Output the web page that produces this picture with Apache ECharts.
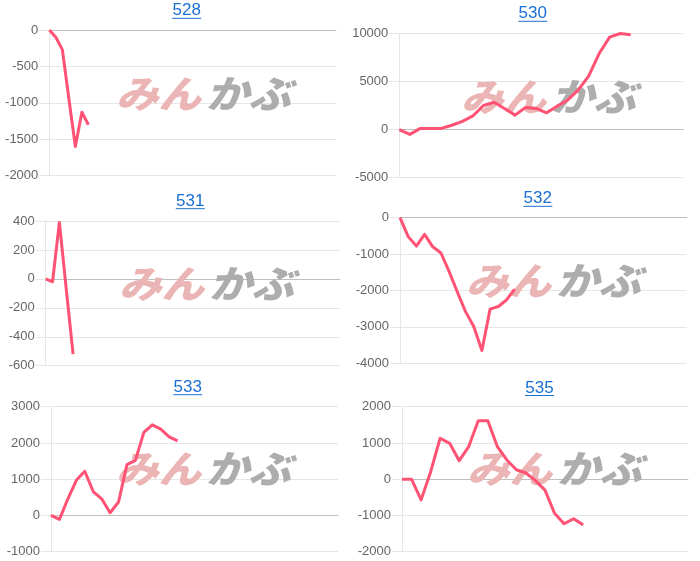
<!DOCTYPE html>
<html><head><meta charset="utf-8">
<script src="https://cdn.jsdelivr.net/npm/echarts@6/dist/echarts.min.js"></script>
<style>html,body{margin:0;padding:0;background:#fff}#c{width:700px;height:561px}</style>
</head><body><div id="c"></div>
<script>
// ---- data ----
const titles = ['528', '530', '531', '532', '533', '535'];
const slotCounts = [45, 28, 44, 36, 35, 31]; // number of x slots per panel
const pnl528 = [0, -100, -270, -940, -1600, -1130, -1300];
const pnl530 = [0, -500, 120, 120, 120, 450, 850, 1420, 2500, 2840, 2190, 1500, 2300, 2200, 1740, 2430, 3050, 4100, 5550, 7900, 9600, 9980, 9850];
const pnl531 = [0, -20, 390, -70, -520];
const pnl532 = [0, -520, -780, -460, -800, -970, -1480, -2040, -2580, -2990, -3650, -2510, -2440, -2260, -1960];
const pnl533 = [0, -110, 460, 970, 1220, 660, 460, 75, 370, 1400, 1520, 2290, 2500, 2380, 2170, 2060];
const pnl535 = [0, 0, -570, 200, 1130, 990, 510, 900, 1610, 1610, 900, 530, 260, 170, -40, -300, -940, -1230, -1090, -1260];
const yMin = [-2000, -5000, -600, -4000, -1000, -2000];
const yMax = [0, 10000, 400, 0, 3000, 2000];
const yStep = [500, 5000, 200, 1000, 1000, 1000];

const seriesData = [pnl528, pnl530, pnl531, pnl532, pnl533, pnl535];
const makeDays = n => Array.from({length: n}, (_, i) => String(i + 1));

// ---- layout ----
const layout = [
  {left: 49.3, top: 30,    width: 286.7, height: 145.7, tx: 186.7, ty: 10.8,  wx: 116, wy: 94},
  {left: 399.3, top: 33.3, width: 284,   height: 144.4, tx: 532.8, ty: 13.8,  wx: 461, wy: 96.5},
  {left: 45.7, top: 221,   width: 294.3, height: 144.7, tx: 190.3, ty: 201.2, wx: 119, wy: 284},
  {left: 400, top: 217.7,  width: 286.7, height: 145.6, tx: 537.8, ty: 198.8, wx: 466, wy: 281},
  {left: 51, top: 406.7,   width: 287,   height: 145,   tx: 187.7, ty: 387.2, wx: 116, wy: 469},
  {left: 402, top: 406.7,  width: 286,   height: 145,   tx: 539.5, ty: 388,   wx: 467, wy: 469}
];

const FONT = '"Liberation Sans", Arial, Helvetica, sans-serif';
const GRID_C = '#e6e6e6';
const LINE_C = '#ff5274';
const LINK_C = '#1a6fd4';

const grids = [], xAxes = [], yAxes = [], series = [], graphics = [];
layout.forEach((l, i) => {
  grids.push({left: l.left, top: l.top, width: l.width, height: l.height});
  xAxes.push({
    type: 'category', gridIndex: i, data: makeDays(slotCounts[i]), boundaryGap: false,
    axisLine: {show: true, onZero: true, lineStyle: {color: '#bfbfbf', width: 1}},
    axisTick: {show: false}, axisLabel: {show: false}, splitLine: {show: false}
  });
  yAxes.push({
    type: 'value', gridIndex: i, min: yMin[i], max: yMax[i], interval: yStep[i],
    axisLine: {show: true, lineStyle: {color: GRID_C}},
    axisTick: {show: true, length: 10, lineStyle: {color: GRID_C}},
    axisLabel: {color: '#666', fontSize: 13, margin: 11, fontFamily: FONT, formatter: v => String(v)},
    splitLine: {show: true, lineStyle: {color: GRID_C, width: 1}}
  });
  series.push({
    type: 'line', xAxisIndex: i, yAxisIndex: i, data: seriesData[i],
    symbol: 'none', showSymbol: false, smooth: false, z: 5,
    lineStyle: {color: LINE_C, width: 3, join: 'round'}
  });
  // title link
  graphics.push({
    type: 'text', x: l.tx, y: l.ty, z: 10,
    style: {text: titles[i], fill: LINK_C, font: '17px ' + FONT, align: 'center', verticalAlign: 'middle'}
  });
  graphics.push({
    type: 'rect', z: 10,
    shape: {x: l.tx - 14.5, y: l.ty + 7, width: 29, height: 1},
    style: {fill: LINK_C}
  });
  // watermark
  graphics.push({
    type: 'text', x: l.wx, y: l.wy, z: 1, scaleX: 1.12,
    style: {text: 'みん', fill: '#ecb5b5', font: 'italic 900 38px "Noto Sans CJK JP"', align: 'left', verticalAlign: 'middle'}
  });
  graphics.push({
    type: 'text', x: l.wx + 90, y: l.wy, z: 1, scaleX: 1.12,
    style: {text: 'かぶ', fill: '#adadad', font: 'italic 900 38px "Noto Sans CJK JP"', align: 'left', verticalAlign: 'middle'}
  });
});

const chart = echarts.init(document.getElementById('c'), null, {renderer: 'canvas'});
chart.setOption({
  animation: false,
  backgroundColor: '#fff',
  grid: grids, xAxis: xAxes, yAxis: yAxes, series: series,
  graphic: graphics
});
</script></body></html>
